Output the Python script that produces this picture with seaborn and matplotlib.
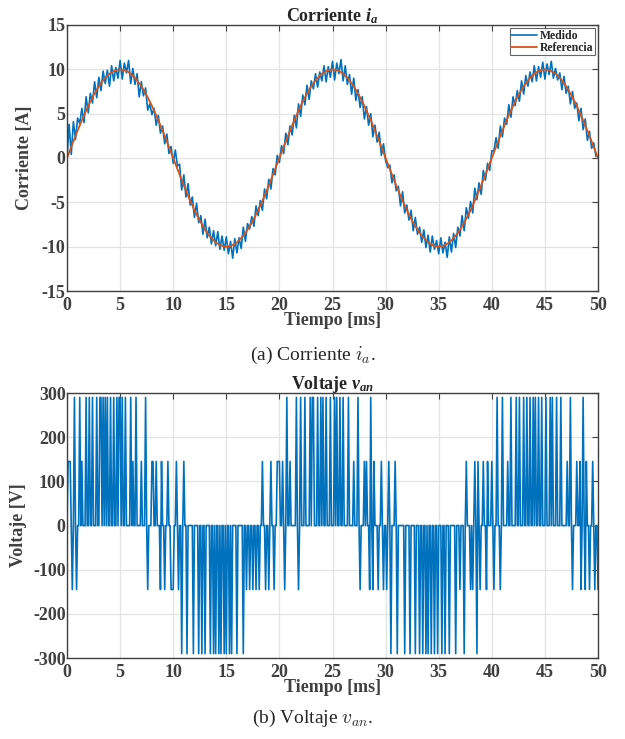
import numpy as np
import pandas as pd
import seaborn as sns
import matplotlib
matplotlib.use("Agg")
import matplotlib.pyplot as plt

# ---------------- data ----------------
# measured phase current, one sample every 0.2 ms (0 .. 50 ms)
i_measured = [
    0.0, 3.8, 0.4, 4.1, 2.1, 4.5, 3.9, 5.6, 4.0, 6.9, 5.1, 7.3, 6.2, 8.6, 6.8, 9.1,
    7.6, 9.8, 8.4, 9.9, 8.1, 10.4, 8.7, 10.2, 9.0, 11.0, 8.9, 10.7, 9.6, 11.0, 8.4,
    10.1, 8.3, 9.5, 6.9, 8.6, 7.0, 7.9, 5.4, 6.1, 4.9, 5.6, 3.7, 4.8, 2.8, 3.6, 1.6,
    2.7, 0.5, 1.3, -0.6,
    0.9, -0.9, -0.7, -3.6, -1.9, -4.4, -2.9, -5.3, -4.4, -6.7, -5.1, -7.3, -6.5, -8.6,
    -6.9, -9.0, -7.8, -9.7, -8.2, -9.9, -8.3, -10.3, -8.8, -10.4, -8.9, -10.8, -9.4,
    -11.3, -9.1, -10.7, -9.0, -10.2, -7.8, -9.4, -7.4, -8.0, -6.6, -7.7, -5.4, -6.5,
    -4.8, -5.9, -3.5, -4.6, -2.4, -3.5, -1.2, -1.9, 0.3, -0.5,
    1.4, 0.5, 2.8, 1.5, 3.6, 2.6, 4.8, 3.4, 6.1, 4.7, 7.1, 6.0, 8.2, 6.6, 8.7, 7.8,
    9.5, 8.0, 9.7, 8.7, 10.4, 8.6, 10.3, 9.1, 10.9, 8.8, 10.7, 9.5, 11.1, 8.7, 10.4,
    8.3, 9.4, 7.2, 9.0, 6.5, 7.7, 5.7, 6.9, 4.4, 5.8, 3.7, 5.0, 2.4, 3.7, 1.8, 2.9,
    0.3, 1.6, -0.3,
    -1.1, -0.8, -2.8, -1.9, -3.7, -3.2, -5.4, -3.8, -6.2, -5.3, -7.0, -5.9, -8.2, -6.7,
    -8.6, -7.8, -9.5, -8.1, -10.1, -8.7, -10.6, -8.8, -10.3, -9.3, -10.8, -9.0, -10.7,
    -9.5, -11.2, -8.9, -10.6, -8.5, -10.1, -7.8, -8.8, -6.5, -8.2, -5.6, -6.8, -4.9,
    -6.2, -3.4, -4.7, -2.8, -4.1, -1.4, -2.5, -0.6, -1.4, 0.8,
    0.8, 2.3, 1.1, 3.6, 2.4, 4.5, 3.8, 6.0, 4.6, 6.9, 5.9, 7.6, 6.4, 8.7, 7.2, 9.3,
    8.1, 9.7, 8.6, 10.4, 8.7, 10.3, 9.1, 10.8, 8.9, 10.6, 9.4, 10.9, 9.0, 10.1, 8.8,
    9.6, 7.7, 9.2, 7.3, 8.1, 6.1, 7.5, 5.6, 6.2, 4.2, 5.6, 3.2, 4.4, 2.0, 3.0, 1.1,
    1.7, 0.2, 0.2,
]

# reference current, one sample every 0.5 ms
i_reference = [
    0.0, 1.56, 3.09, 4.54, 5.88, 7.07, 8.09, 8.91, 9.51, 9.88, 10.0, 9.88, 9.51, 8.91,
    8.09, 7.07, 5.88, 4.54, 3.09, 1.56, 0.0, -1.56, -3.09, -4.54, -5.88, -7.07, -8.09,
    -8.91, -9.51, -9.88, -10.0, -9.88, -9.51, -8.91, -8.09, -7.07, -5.88, -4.54, -3.09,
    -1.56, 0.0, 1.56, 3.09, 4.54, 5.88, 7.07, 8.09, 8.91, 9.51, 9.88, 10.0, 9.88, 9.51,
    8.91, 8.09, 7.07, 5.88, 4.54, 3.09, 1.56, 0.0, -1.56, -3.09, -4.54, -5.88, -7.07,
    -8.09, -8.91, -9.51, -9.88, -10.0, -9.88, -9.51, -8.91, -8.09, -7.07, -5.88, -4.54,
    -3.09, -1.56, 0.0, 1.56, 3.09, 4.54, 5.88, 7.07, 8.09, 8.91, 9.51, 9.88, 10.0, 9.88,
    9.51, 8.91, 8.09, 7.07, 5.88, 4.54, 3.09, 1.56, 0.0,
]

# phase voltage pulses: instants (ms, 0.1 ms grid) at each level, 0 V otherwise
pulses_p290 = [0.7, 1.2, 1.8, 2.1, 2.4, 2.8, 3.1, 3.2, 3.4, 3.6, 3.8, 4.1, 4.4, 4.7,
               4.9, 5.0, 5.2, 5.5, 6.0, 6.5, 7.4,
               20.7, 21.6, 22.0, 22.4, 22.9, 23.1, 23.2, 23.6, 23.9, 24.1, 24.4, 24.8,
               25.2, 25.4, 25.7, 26.0, 26.5, 27.4, 28.6,
               40.5, 41.0, 41.8, 42.3, 42.6, 43.0, 43.3, 43.6, 43.9, 44.1, 44.4, 44.7,
               45.1, 45.5, 45.7, 46.1, 46.5, 47.4, 48.6]
pulses_p145 = [0.1, 0.2, 0.3, 1.4, 6.2, 7.0, 8.0, 8.1, 8.4, 8.9, 9.5, 10.3, 11.0,
               18.4, 19.2, 19.8, 19.9, 20.0, 20.3, 21.0,
               27.0, 28.0, 28.2, 28.9, 29.6, 30.3, 30.9,
               37.6, 38.4, 38.7, 39.2, 39.6, 40.0, 41.5,
               47.1, 48.0, 48.3, 48.9, 49.5]
pulses_m145 = [0.5, 0.9, 7.6, 8.8, 9.2, 9.8, 9.9, 10.0, 10.5,
               16.9, 17.2, 17.5, 17.8, 18.1, 18.7, 19.0, 19.5, 20.5, 21.8,
               27.6, 28.5, 28.8, 29.3, 29.8, 30.1,
               37.0, 38.0, 38.2, 38.9, 39.5, 40.2, 40.8,
               47.6, 48.4, 48.8, 49.2, 49.7, 50.0]
pulses_m290 = [10.8, 11.3, 11.9, 12.4, 12.7, 13.0, 13.5, 13.8, 14.0, 14.3, 14.5, 14.8,
               15.0, 15.3, 15.5, 16.0, 16.6,
               30.5, 31.1, 31.8, 32.3, 32.8, 33.2, 33.5, 33.8, 34.0, 34.3, 34.6, 34.9,
               35.3, 35.6, 36.0, 36.6, 37.4, 38.6]
levels = [290, 145, -145, -290]

# ---------------- build tables ----------------
df_i = pd.DataFrame({"t": np.linspace(0, 50, len(i_measured)), "i": i_measured})
df_ref = pd.DataFrame({"t": np.linspace(0, 50, len(i_reference)), "i": i_reference})

n_v = 501
v = np.zeros(n_v)
for times, lev in zip([pulses_p290, pulses_p145, pulses_m145, pulses_m290], levels):
    v[np.round(np.array(times) * 10).astype(int)] = lev
df_v = pd.DataFrame({"t": np.arange(n_v) / 10, "v": v})

# ---------------- style ----------------
sns.set_style("whitegrid")
plt.rcParams["font.family"] = ["Liberation Serif", "DejaVu Serif"]
plt.rcParams["axes.unicode_minus"] = False
plt.rcParams["mathtext.fontset"] = "custom"
plt.rcParams["mathtext.rm"] = "Liberation Serif:bold"
plt.rcParams["mathtext.it"] = "Liberation Serif:bold:italic"
plt.rcParams["mathtext.bf"] = "Liberation Serif:bold"

gray = "#404040"
blue = "#0072BD"
orange = "#D95319"

fig = plt.figure(figsize=(6.25, 7.39), dpi=100)
ax1 = fig.add_axes([0.1072, 0.6062, 0.8496, 0.3600])
ax2 = fig.add_axes([0.1072, 0.1096, 0.8496, 0.3586])

sns.lineplot(data=df_i, x="t", y="i", ax=ax1, color=blue, linewidth=1.2, label="Medido")
sns.lineplot(data=df_ref, x="t", y="i", ax=ax1, color=orange, linewidth=1.3, label="Referencia")
sns.lineplot(data=df_v, x="t", y="v", ax=ax2, color=blue, linewidth=1.2)

for ax in (ax1, ax2):
    ax.set_xlim(0, 50)
    ax.set_xticks(range(0, 51, 5))
    ax.grid(True, color="#e3e3e3", linewidth=0.9)
    for s in ax.spines.values():
        s.set_color(gray)
        s.set_linewidth(1.0)
    ax.tick_params(direction="in", length=4, width=0.8, color=gray, top=True, right=True,
                   labelsize=13, labelcolor=gray)
    ax.tick_params(axis="x", pad=4)
    ax.tick_params(axis="y", pad=1)
    for lab in ax.get_xticklabels() + ax.get_yticklabels():
        lab.set_fontweight("bold")
    ax.set_xlabel("Tiempo [ms]", fontsize=13, fontweight="bold", color=gray, labelpad=-1)

ax1.set_ylim(-15, 15)
ax1.set_yticks([-15, -10, -5, 0, 5, 10, 15])
ax1.set_ylabel("Corriente [A]", fontsize=13, fontweight="bold", color=gray, labelpad=6)
ax1.set_title("Corriente $i_a$", fontsize=13, fontweight="bold", pad=3)

ax2.set_ylim(-300, 300)
ax2.set_yticks(range(-300, 301, 100))
ax2.set_ylabel("Voltaje [V]", fontsize=13, fontweight="bold", color=gray, labelpad=4)
ax2.set_title("Voltaje $v_{an}$", fontsize=13, fontweight="bold", pad=3)

leg = ax1.legend(loc="upper right", bbox_to_anchor=(1.0, 1.0),
                 prop={"family": "Liberation Serif", "weight": "bold", "size": 8.5},
                 frameon=True, fancybox=False, borderpad=0.15, handlelength=2.2,
                 handletextpad=0.2, labelspacing=0.0, borderaxespad=0.25)
leg.get_frame().set_edgecolor(gray)
leg.get_frame().set_linewidth(0.8)

fig.text(0.5, 0.5196, "(a) Corriente $i_a$.", ha="center", va="center",
         fontsize=14, math_fontfamily="cm")
fig.text(0.5, 0.0284, "(b) Voltaje $v_{an}$.", ha="center", va="center",
         fontsize=14, math_fontfamily="cm")

fig.savefig("out.png", dpi=100)
